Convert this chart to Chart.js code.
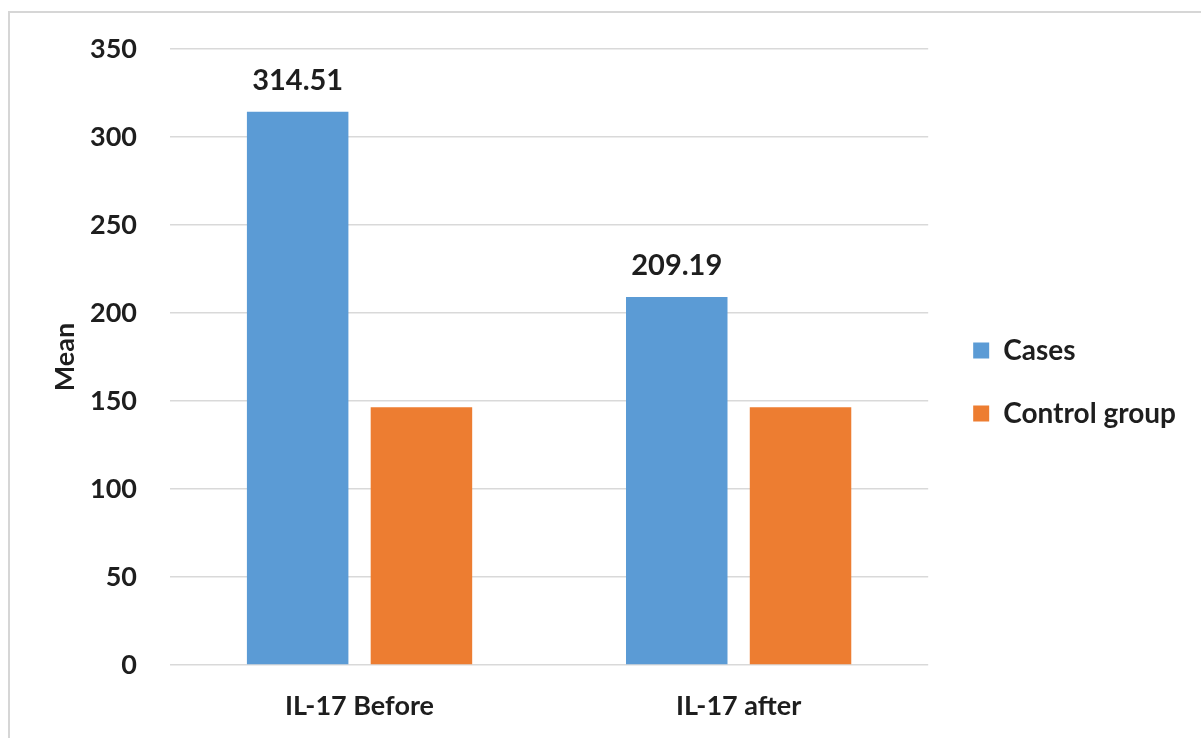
<!DOCTYPE html>
<html>
<head>
<meta charset="utf-8">
<script src="https://cdn.jsdelivr.net/npm/chart.js@4.4.1/dist/chart.umd.min.js"></script>
<style>
  html, body { margin: 0; padding: 0; background: #fff; overflow: hidden; }
  #wrap { position: relative; width: 1201px; height: 738px; }
  #frame { position: absolute; left: 8px; top: 11px; width: 1300px; height: 800px;
           border: 2px solid #d6d6d6; box-sizing: border-box; }
  canvas { position: absolute; left: 0; top: 0; }
</style>
</head>
<body>
<div id="wrap">
  <div id="frame"></div>
  <canvas id="c" width="1201" height="738"></canvas>
</div>
<script>
// Mean IL-17 levels
const categories = ['IL-17 Before', 'IL-17 after'];
const seriesNames = ['Cases', 'Control group'];
const casesMeans = [314.51, 209.19];
const controlMeans = [146.5, 146.5];
const yTickValues = [0, 50, 100, 150, 200, 250, 300, 350];

const TEXT = '#1e1e1e';
const FONT = { family: 'Lato', weight: 'bold', size: 27 };
const LEGEND_FONT = { family: 'Lato', weight: 'bold', size: 28 };

// value labels above the Cases bars
const valueLabels = {
  id: 'valueLabels',
  afterDatasetsDraw(chart) {
    const ctx = chart.ctx;
    const meta = chart.getDatasetMeta(0);
    ctx.save();
    ctx.font = 'bold 29px Lato';
    ctx.fillStyle = TEXT;
    ctx.textAlign = 'center';
    ctx.textBaseline = 'middle';
    meta.data.forEach((bar, i) => {
      ctx.fillText(casesMeans[i].toFixed(2), bar.x, bar.y - 31);
    });
    ctx.restore();
  }
};

// shift the legend block a little away from the plot
const legendOffset = {
  id: 'legendOffset',
  afterLayout(chart) {
    const lg = chart.legend;
    const dx = 10, dy = -10;
    lg.left += dx; lg.right += dx;
    lg.top += dy; lg.bottom += dy;
  }
};

new Chart(document.getElementById('c'), {
  type: 'bar',
  data: {
    labels: categories,
    datasets: [
      { label: seriesNames[0], data: casesMeans, backgroundColor: '#5B9BD5',
        categoryPercentage: 0.653, barPercentage: 0.82 },
      { label: seriesNames[1], data: controlMeans, backgroundColor: '#ED7D31',
        categoryPercentage: 0.653, barPercentage: 0.82 }
    ]
  },
  options: {
    responsive: false,
    animation: false,
    devicePixelRatio: 1,
    layout: { padding: { top: 46, left: 0, bottom: 0, right: 25 } },
    plugins: {
      legend: {
        position: 'right',
        align: 'center',
        maxWidth: 253,
        labels: {
          font: LEGEND_FONT, color: TEXT,
          boxWidth: 16, boxHeight: 16, padding: 35
        }
      },
      tooltip: { enabled: false },
      title: { display: false }
    },
    scales: {
      x: {
        grid: { display: false },
        border: { display: false },
        ticks: { font: FONT, color: TEXT, padding: 17 },
        afterFit(s) { s.height = 73; }
      },
      y: {
        min: 0, max: 350,
        afterBuildTicks(s) { s.ticks = yTickValues.map(v => ({ value: v })); },
        grid: { color: '#d9d9d9', lineWidth: 1.5, drawTicks: false },
        border: { display: false },
        ticks: { font: FONT, color: TEXT, padding: 33 },
        title: { display: true, text: 'Mean', font: FONT, color: TEXT, padding: { top: 49 } },
        afterFit(s) { s.width = 170; }
      }
    }
  },
  plugins: [valueLabels, legendOffset]
});
</script>
</body>
</html>
